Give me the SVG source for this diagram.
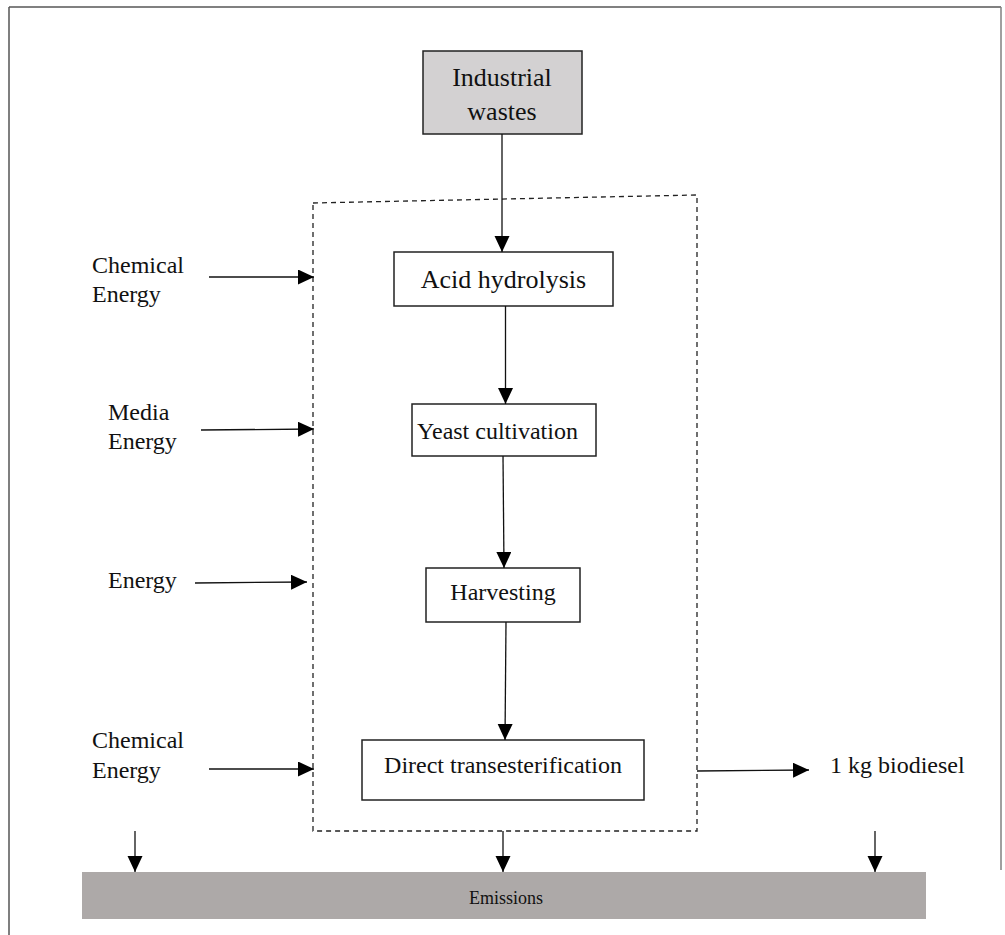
<svg xmlns="http://www.w3.org/2000/svg" width="1005" height="935" viewBox="0 0 1005 935">
<defs>
<marker id="ah" markerUnits="userSpaceOnUse" markerWidth="17" markerHeight="16" refX="16" refY="7.5" orient="auto">
<path d="M0,0 L16,7.5 L0,15 Z" fill="#000"/>
</marker>
<style>
.t{font-family:"Liberation Serif","Times New Roman",serif;fill:#111;}
.box{fill:#fff;stroke:#222;stroke-width:1.5;}
.c{stroke:#111;stroke-width:1.3;fill:none;marker-end:url(#ah);}
</style>
</defs>
<rect width="1005" height="935" fill="#fff"/>
<g id="frame">
<line x1="9" y1="7" x2="1001" y2="7" stroke="#808080" stroke-width="2"/>
<line x1="9" y1="7" x2="9" y2="935" stroke="#555" stroke-width="1.5"/>
<line x1="1001" y1="7" x2="1001" y2="870" stroke="#808080" stroke-width="1.5"/>
</g>
<g id="boundary">
<path d="M313,203 L697,195 L697,831 L313,831 Z" fill="none" stroke="#222" stroke-width="1.3" stroke-dasharray="5,4"/>
</g>
<g id="industrial-wastes">
<rect x="423" y="51" width="159" height="83" fill="#d3d1d2" stroke="#222" stroke-width="1.5"/>
<text class="t" x="502" y="86" font-size="26" text-anchor="middle">Industrial</text>
<text class="t" x="502" y="120" font-size="26" text-anchor="middle">wastes</text>
</g>
<g id="acid-hydrolysis">
<rect class="box" x="394" y="252" width="219" height="54"/>
<text class="t" x="503.5" y="288" font-size="26" text-anchor="middle">Acid hydrolysis</text>
</g>
<g id="yeast-cultivation">
<rect class="box" x="412" y="404" width="184" height="52"/>
<text class="t" x="497.5" y="439" font-size="24" text-anchor="middle">Yeast cultivation</text>
</g>
<g id="harvesting">
<rect class="box" x="426" y="568" width="154" height="54"/>
<text class="t" x="503" y="600" font-size="24" text-anchor="middle">Harvesting</text>
</g>
<g id="direct-transesterification">
<rect class="box" x="362" y="740" width="282" height="60"/>
<text class="t" x="503" y="773" font-size="24" text-anchor="middle">Direct transesterification</text>
</g>
<g id="emissions">
<rect x="82" y="872" width="844" height="47" fill="#ada9a8"/>
<text class="t" x="506" y="904" font-size="18" text-anchor="middle">Emissions</text>
</g>
<g id="labels">
<text class="t" x="92" y="273" font-size="24">Chemical</text>
<text class="t" x="92" y="302" font-size="24">Energy</text>
<text class="t" x="108" y="420" font-size="24">Media</text>
<text class="t" x="108" y="449" font-size="24">Energy</text>
<text class="t" x="108" y="588" font-size="24">Energy</text>
<text class="t" x="92" y="748" font-size="24">Chemical</text>
<text class="t" x="92" y="778" font-size="24">Energy</text>
<text class="t" x="830" y="773" font-size="24">1 kg biodiesel</text>
</g>
<g id="connectors">
<line class="c" x1="502" y1="134" x2="502" y2="252"/>
<line class="c" x1="505.5" y1="306" x2="505.5" y2="404"/>
<line class="c" x1="503" y1="456" x2="504" y2="568"/>
<line class="c" x1="506" y1="622" x2="505" y2="740"/>
<line class="c" x1="209" y1="277" x2="314" y2="277"/>
<line class="c" x1="201" y1="430" x2="314" y2="429"/>
<line class="c" x1="195" y1="583" x2="307" y2="582"/>
<line class="c" x1="209" y1="769" x2="314" y2="769"/>
<line class="c" x1="697" y1="771" x2="809" y2="770"/>
<line class="c" x1="135" y1="831" x2="135" y2="872"/>
<line class="c" x1="503" y1="831" x2="503" y2="872"/>
<line class="c" x1="875" y1="831" x2="875" y2="872"/>
</g>
</svg>
